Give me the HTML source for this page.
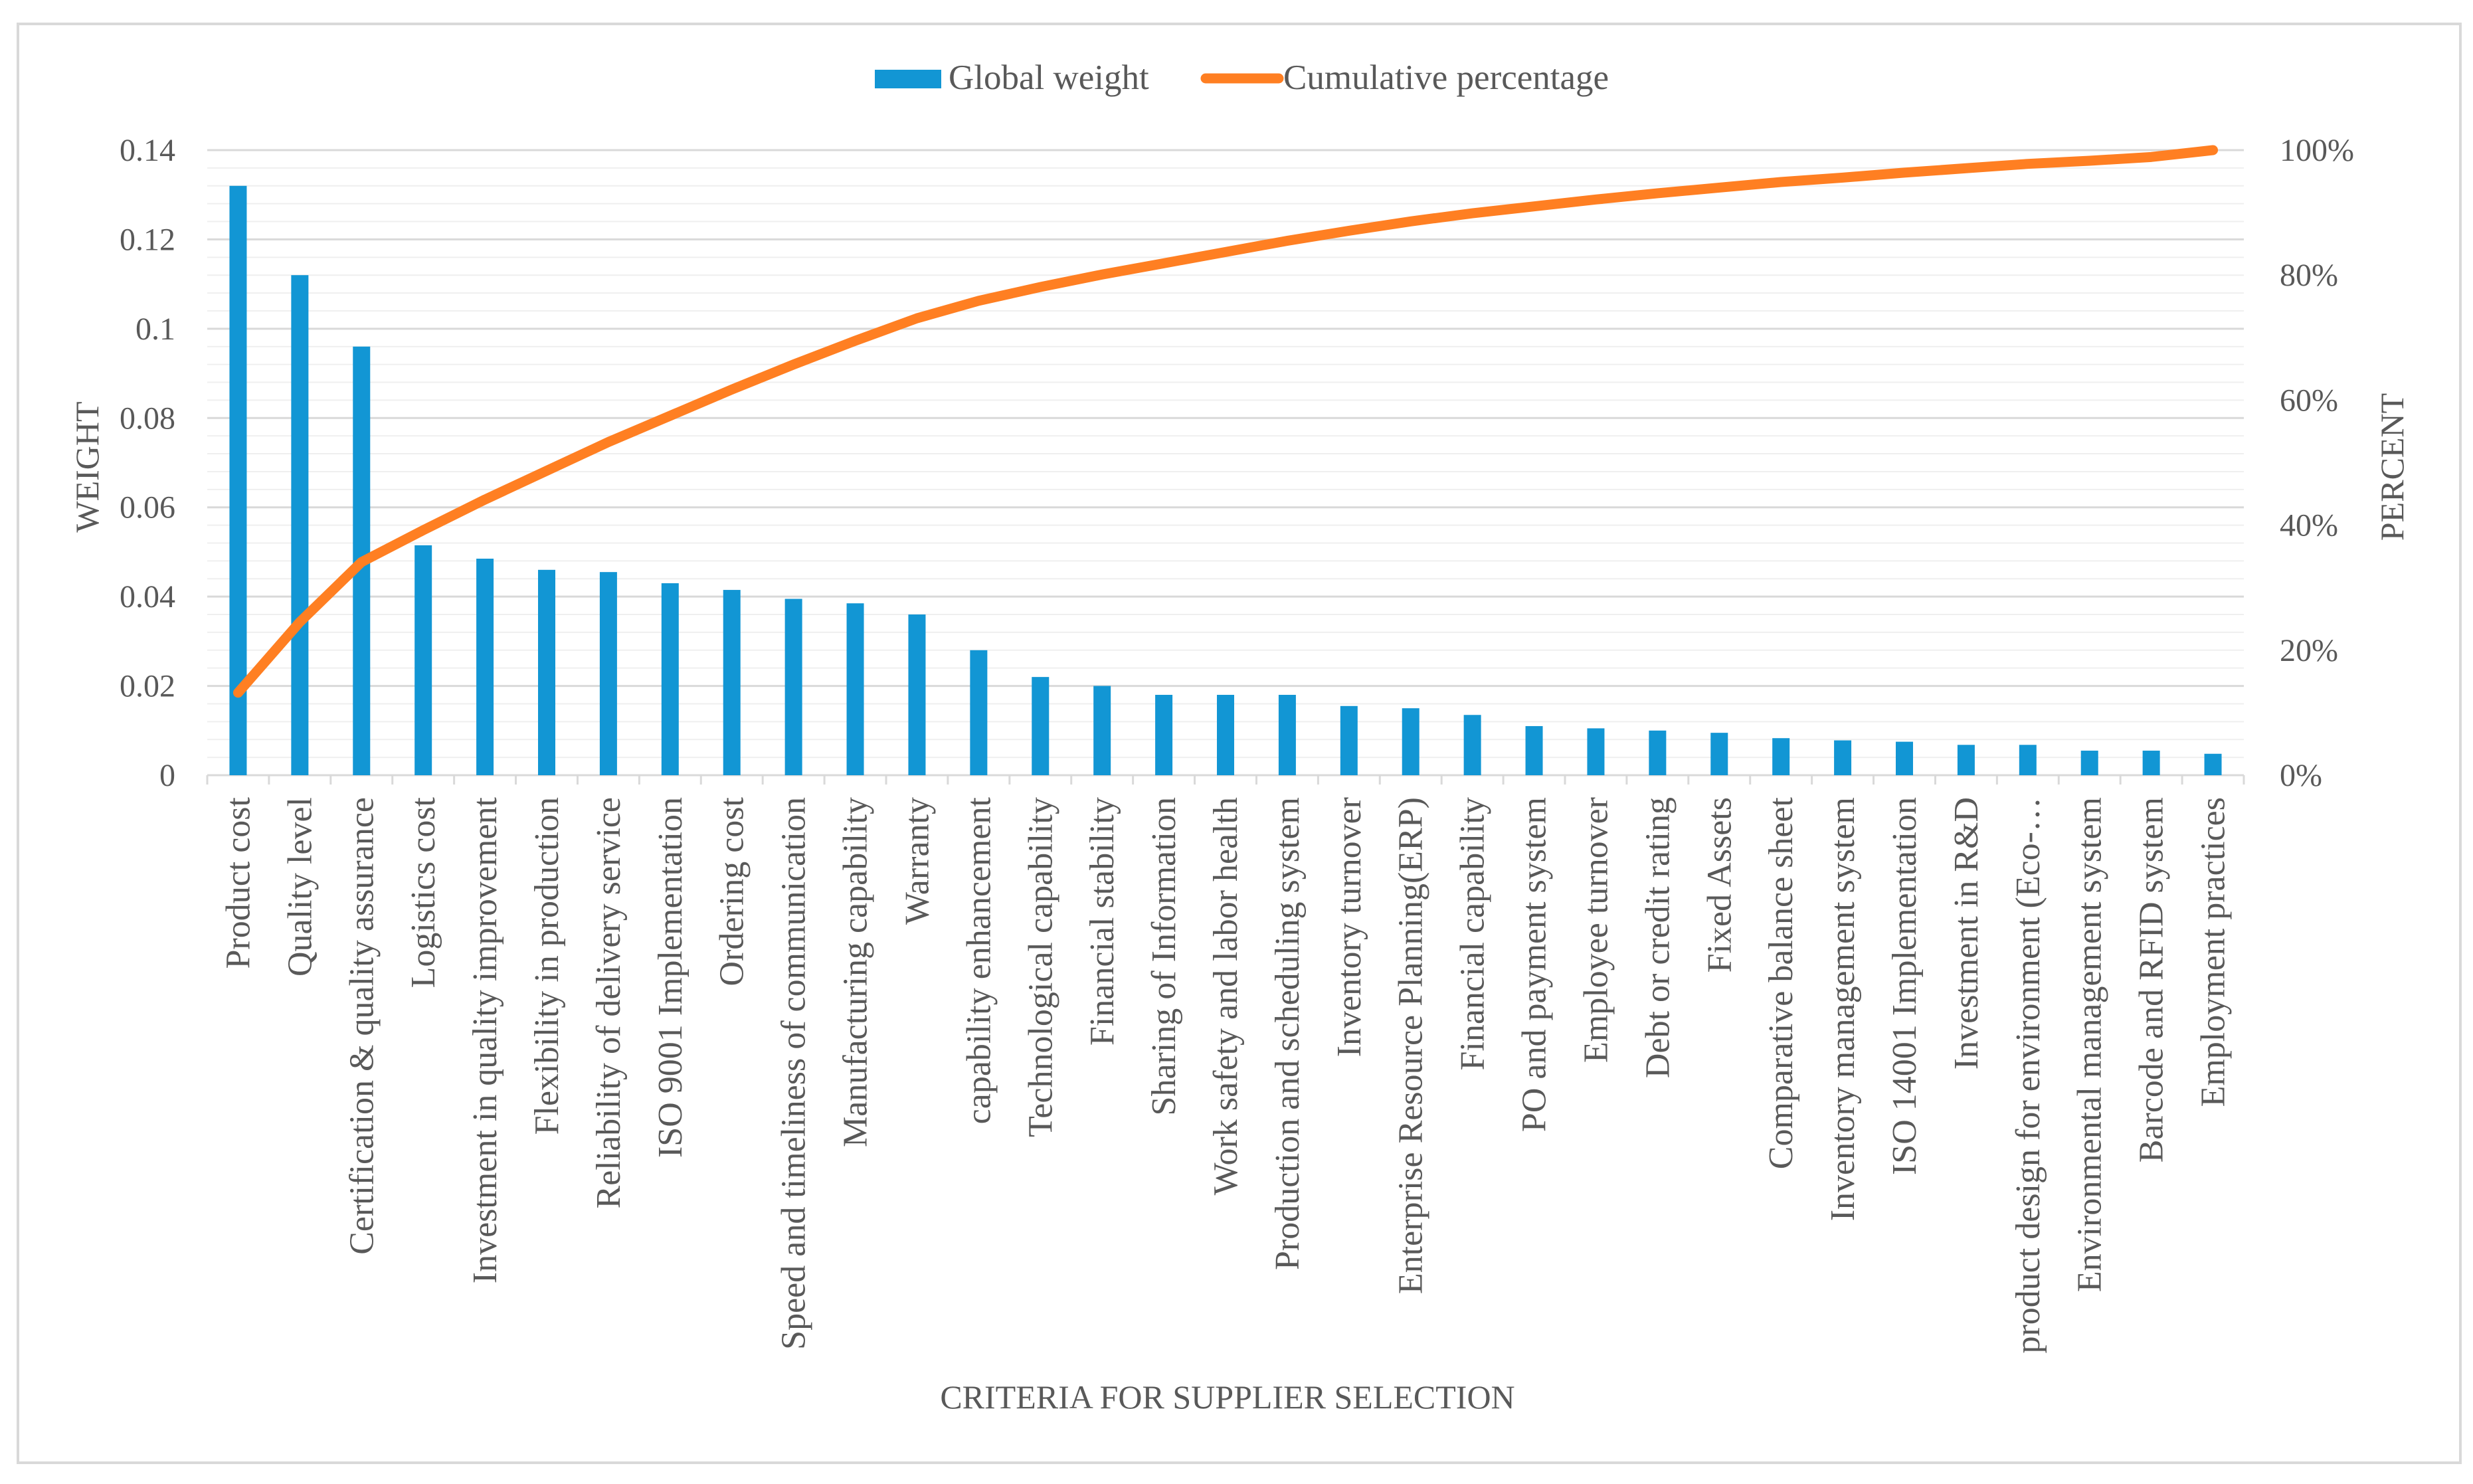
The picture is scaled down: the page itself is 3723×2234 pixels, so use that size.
<!DOCTYPE html>
<html><head><meta charset="utf-8"><style>
html,body{margin:0;padding:0;background:#fff;}
svg{display:block;font-family:"Liberation Serif",serif;}
</style></head><body>
<svg id="chart" width="3723" height="2234" viewBox="0 0 3723 2234" xmlns="http://www.w3.org/2000/svg">
<rect x="27" y="36" width="3677" height="2166" fill="#fff" stroke="#d9d9d9" stroke-width="4"/>
<g id="grid"></g>
<g id="bars"></g>
<g id="line"></g>
<g id="ticks"></g>
<g id="xlabels"></g>
<g>
<rect x="1317" y="105" width="100" height="28" fill="#1296D4"/>
<text x="1428" y="134" font-size="53" fill="#595959">Global weight</text>
<line x1="1815" y1="118" x2="1925" y2="118" stroke="#FF7F22" stroke-width="15" stroke-linecap="round"/>
<text x="1932" y="134" font-size="53" fill="#595959">Cumulative percentage</text>
</g>
<text transform="translate(148,703) rotate(-90)" text-anchor="middle" font-size="50" fill="#595959">WEIGHT</text>
<text transform="translate(3618,703) rotate(-90)" text-anchor="middle" font-size="50" fill="#595959">PERCENT</text>
<text x="1848" y="2120" text-anchor="middle" font-size="50" fill="#595959">CRITERIA FOR SUPPLIER SELECTION</text>
</svg>
<script>
const categories=["Product cost","Quality level","Certification & quality assurance","Logistics cost","Investment in quality improvement","Flexibility in production","Reliability of delivery service","ISO 9001 Implementation","Ordering cost","Speed and timeliness of communication","Manufacturing capability","Warranty","capability enhancement","Technological capability","Financial stability","Sharing of Information","Work safety and labor health","Production and scheduling system","Inventory turnover","Enterprise Resource Planning(ERP)","Financial capability","PO and payment system","Employee turnover","Debt or credit rating","Fixed Assets","Comparative balance sheet","Inventory management system","ISO 14001 Implementation","Investment in R&D","product design for environment (Eco-…","Environmental management system","Barcode and RFID system","Employment practices"];
const weights=[0.132,0.112,0.096,0.0515,0.0485,0.046,0.0455,0.043,0.0415,0.0395,0.0385,0.036,0.028,0.022,0.020,0.018,0.018,0.018,0.0155,0.015,0.0135,0.011,0.0105,0.010,0.0095,0.0083,0.0078,0.0075,0.0068,0.0068,0.0055,0.0055,0.0048];
const cumulative=[13.2,24.5,34.1,39.2,44.1,48.7,53.3,57.5,61.7,65.7,69.5,73.1,75.9,78.1,80.1,81.9,83.7,85.5,87.1,88.6,89.9,91.0,92.1,93.1,94.0,94.9,95.6,96.4,97.1,97.8,98.3,98.9,100];
const leftTicks=["0","0.02","0.04","0.06","0.08","0.1","0.12","0.14"];
const rightTicks=["0%","20%","40%","60%","80%","100%"];
const NS="http://www.w3.org/2000/svg";
const X0=312,X1=3378,Y0=1167,YT=226;
const band=(X1-X0)/categories.length;
const yW=v=>Y0-(v/0.14)*(Y0-YT);
const yP=p=>Y0-(p/100)*(Y0-YT);
const xC=i=>X0+band*(i+0.5);
function mk(tag,attrs,parent){const e=document.createElementNS(NS,tag);for(const k in attrs)e.setAttribute(k,attrs[k]);parent.appendChild(e);return e;}
const grid=document.getElementById('grid');
for(let k=0;k<=35;k++){const v=k*0.004;const y=yW(v);const major=k%5===0;
 const l=mk('line',{x1:X0,x2:X1,y1:y,y2:y,stroke:major?'#d9d9d9':'#efefef','stroke-width':major?3:2},grid);
 
 }
const ax=mk('line',{x1:X0,x2:X1,y1:Y0,y2:Y0,stroke:'#d9d9d9','stroke-width':3},grid);


const bars=document.getElementById('bars');
weights.forEach((w,i)=>{const bw=26;const r=mk('rect',{x:xC(i)-bw/2,y:yW(w),width:bw,height:Y0-yW(w),fill:'#1296D4'},bars);
 
 });
const ticks=document.getElementById('ticks');
for(let i=0;i<=categories.length;i++){const x=X0+band*i;const t=mk('line',{x1:x,x2:x,y1:Y0,y2:Y0+14,stroke:'#d9d9d9','stroke-width':3},ticks);
 
 }
leftTicks.forEach((s,i)=>{const t=mk('text',{x:264,y:yW(i*0.02)+16,'text-anchor':'end','font-size':48,fill:'#595959'},ticks);t.textContent=s;
 
 });
rightTicks.forEach((s,i)=>{const t=mk('text',{x:3432,y:yP(i*20)+16,'font-size':48,fill:'#595959'},ticks);t.textContent=s;
 
 });
const line=document.getElementById('line');
const pts=cumulative.map((p,i)=>xC(i)+','+yP(p)).join(' ');
const pl=mk('polyline',{points:pts,fill:'none',stroke:'#FF7F22','stroke-width':15,'stroke-linejoin':'round','stroke-linecap':'round'},line);


const xl=document.getElementById('xlabels');
categories.forEach((c,i)=>{const t=mk('text',{transform:'translate('+(xC(i)+17)+',1200) rotate(-90)','text-anchor':'end','font-size':52,fill:'#595959'},xl);t.textContent=c;
 
 });
</script>
</body></html>
